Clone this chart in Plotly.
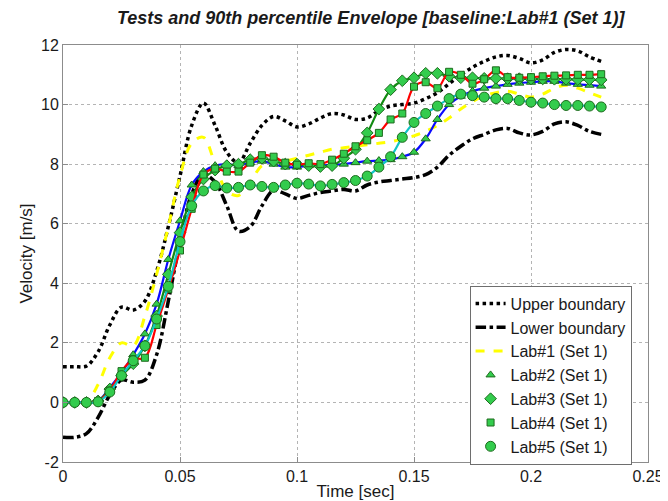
"""Velocity tests with the 90th percentile envelope (baseline Lab#1, Set 1)."""

import plotly.graph_objects as go

FONT = "Arial, Liberation Sans, sans-serif"

time_s = [
    0.000, 0.005, 0.010, 0.015, 0.020, 0.025, 0.030, 0.035, 0.040, 0.045,
    0.050, 0.055, 0.060, 0.065, 0.070, 0.075, 0.080, 0.085, 0.090, 0.095,
    0.100, 0.105, 0.110, 0.115, 0.120, 0.125, 0.130, 0.135, 0.140, 0.145,
    0.150, 0.155, 0.160, 0.165, 0.170, 0.175, 0.180, 0.185, 0.190, 0.195,
    0.200, 0.205, 0.210, 0.215, 0.220, 0.225, 0.230,
]

upper = [
    1.20, 1.20, 1.22, 1.70, 2.60, 3.20, 3.10, 3.40, 4.40, 5.90,
    7.60, 9.30, 10.05, 9.30, 8.40, 8.05, 8.70, 9.30, 9.60, 9.45,
    9.25, 9.35, 9.55, 9.70, 9.65, 9.50, 9.55, 9.80, 9.95, 10.00,
    10.05, 10.20, 10.40, 10.70, 11.00, 11.25, 11.45, 11.60, 11.65, 11.55,
    11.40, 11.50, 11.75, 11.85, 11.80, 11.60, 11.45,
]

lower = [
    -1.17, -1.17, -1.05, -0.50, 0.25, 0.75, 0.68, 0.75, 1.60, 3.40,
    5.40, 7.00, 7.65, 7.40, 6.60, 5.75, 5.90, 6.60, 7.12, 7.00,
    6.85, 6.95, 7.05, 7.10, 7.15, 7.10, 7.30, 7.40, 7.45, 7.50,
    7.55, 7.65, 7.90, 8.30, 8.60, 8.85, 9.00, 9.15, 9.20, 9.05,
    8.98, 9.10, 9.35, 9.42, 9.30, 9.10, 9.00,
]

lab1 = [
    0.00, 0.00, 0.02, 0.60, 1.50, 2.00, 1.90, 2.90, 4.30, 5.90,
    7.60, 8.70, 8.90, 8.00, 7.10, 6.95, 7.40, 7.95, 8.05, 8.10,
    8.20, 8.30, 8.40, 8.50, 8.55, 8.60, 8.65, 8.70, 8.75, 8.85,
    8.95, 9.10, 9.30, 9.55, 9.85, 10.10, 10.30, 10.40, 10.45, 10.35,
    10.25, 10.35, 10.55, 10.65, 10.55, 10.40, 10.25,
]

lab2 = [
    0.00, 0.00, 0.00, 0.05, 0.50, 1.00, 1.60, 2.30, 3.30, 4.80,
    6.10, 7.30, 7.75, 7.95, 8.00, 7.95, 8.05, 8.10, 8.00, 7.90,
    7.90, 7.95, 7.95, 7.98, 8.00, 8.05, 8.10, 8.12, 8.15, 8.25,
    8.40, 8.85, 9.50, 10.00, 10.28, 10.45, 10.55, 10.62, 10.68, 10.72,
    10.75, 10.78, 10.78, 10.72, 10.68, 10.65, 10.62,
]

lab3 = [
    0.00, 0.00, 0.00, 0.05, 0.45, 0.90, 1.30, 1.90, 2.90, 4.30,
    5.70, 6.90, 7.50, 7.80, 7.95, 8.00, 8.15, 8.20, 8.10, 8.00,
    8.00, 7.95, 7.92, 7.95, 8.20, 8.50, 9.05, 9.85, 10.50, 10.80,
    10.90, 11.05, 11.05, 10.95, 10.90, 10.90, 10.88, 10.88, 10.87, 10.87,
    10.86, 10.86, 10.85, 10.85, 10.84, 10.84, 10.83,
]

lab4 = [
    0.00, 0.00, 0.00, 0.05, 0.40, 1.05, 1.45, 1.50, 2.60, 3.80,
    5.10, 6.50, 7.65, 7.85, 7.75, 7.75, 8.05, 8.30, 8.25, 8.05,
    7.98, 8.03, 8.00, 8.15, 8.35, 8.60, 8.80, 9.05, 9.50, 9.70,
    10.60, 10.75, 10.55, 11.10, 11.00, 10.70, 10.85, 11.15, 10.92, 10.90,
    10.92, 10.95, 10.97, 10.98, 11.00, 11.00, 11.02,
]

lab5 = [
    0.00, 0.00, 0.00, 0.02, 0.35, 0.90, 1.40, 1.90, 2.80, 3.90,
    5.40, 6.60, 7.10, 7.28, 7.20, 7.22, 7.30, 7.25, 7.22, 7.30,
    7.36, 7.33, 7.27, 7.32, 7.38, 7.45, 7.60, 7.90, 8.25, 8.90,
    9.40, 9.70, 9.95, 10.20, 10.35, 10.30, 10.25, 10.20, 10.20, 10.14,
    10.08, 10.05, 10.00, 9.97, 9.97, 9.95, 9.92,
]

x_ticks = [0, 0.05, 0.1, 0.15, 0.2, 0.25]
x_tick_text = ["0", "0.05", "0.1", "0.15", "0.2", "0.25"]
y_ticks = [-2, 0, 2, 4, 6, 8, 10, 12]
y_tick_text = ["-2", "0", "2", "4", "6", "8", "10", "12"]

MARKER_FILL = "#33cc4d"
MARKER_EDGE = "#1d6b1d"
TEXT = "#1a1a1a"

fig = go.Figure()

fig.add_trace(go.Scatter(
    x=time_s, y=upper, name="Upper boundary", mode="lines",
    line=dict(color="black", width=3.5, dash="dot", shape="spline"),
    legendgroup="a",
))
fig.add_trace(go.Scatter(
    x=time_s, y=lower, name="Lower boundary", mode="lines",
    line=dict(color="black", width=3.5, dash="dashdot", shape="spline"),
    legendgroup="b",
))
fig.add_trace(go.Scatter(
    x=time_s, y=lab1, name="Lab#1 (Set 1)", mode="lines",
    line=dict(color="#ffff00", width=3, dash="dash", shape="spline"),
    legendgroup="c",
))

labs = [
    ("Lab#2 (Set 1)", lab2, "#0a0aff", "triangle-up", 8, "d"),
    ("Lab#3 (Set 1)", lab3, "#118a11", "diamond", 9, "e"),
    ("Lab#4 (Set 1)", lab4, "#ff0000", "square", 7, "f"),
    ("Lab#5 (Set 1)", lab5, "#10c4c4", "circle", 10, "g"),
]
for name, values, line_color, symbol, size, group in labs:
    fig.add_trace(go.Scatter(
        x=time_s, y=values, mode="lines", showlegend=False, hoverinfo="skip",
        line=dict(color=line_color, width=2.2, shape="spline"),
        legendgroup=group,
    ))
    fig.add_trace(go.Scatter(
        x=time_s, y=values, name=name, mode="markers",
        marker=dict(symbol=symbol, size=size, color=MARKER_FILL,
                    line=dict(color=MARKER_EDGE, width=1)),
        legendgroup=group,
    ))

axis_common = dict(
    showgrid=True, gridcolor="#b4b4b4", griddash="dot", gridwidth=1,
    showline=True, linecolor="#8c8c8c", linewidth=1, mirror=True,
    ticks="inside", ticklen=5, tickcolor="#8c8c8c",
    zeroline=False, tickfont=dict(family=FONT, size=16, color=TEXT),
)

fig.update_xaxes(
    range=[0, 0.25], tickvals=x_ticks, ticktext=x_tick_text,
    title=dict(text="Time [sec]", font=dict(family=FONT, size=17, color=TEXT),
               standoff=0),
    **axis_common,
)
fig.update_yaxes(
    range=[-2, 12], tickvals=y_ticks, ticktext=y_tick_text,
    title=dict(text="Velocity [m/s]", font=dict(family=FONT, size=17, color=TEXT),
               standoff=4),
    **axis_common,
)

fig.update_layout(
    width=668,
    height=501,
    margin=dict(l=55, r=16, t=37, b=41),
    paper_bgcolor="white",
    plot_bgcolor="white",
    title=dict(
        text="Tests and 90th percentile Envelope [baseline:Lab#1 (Set 1)]",
        font=dict(family=FONT, size=18, color=TEXT, weight="bold", style="italic"),
        x=0.543, xanchor="center", y=0.993, yanchor="top",
    ),
    legend=dict(
        x=0.695, y=0.423, xanchor="left", yanchor="top",
        bgcolor="white", bordercolor="#6e6e6e", borderwidth=1,
        font=dict(family=FONT, size=16, color=TEXT),
        tracegroupgap=0, itemwidth=30,
    ),
    showlegend=True,
)

fig.write_html("out.html")
